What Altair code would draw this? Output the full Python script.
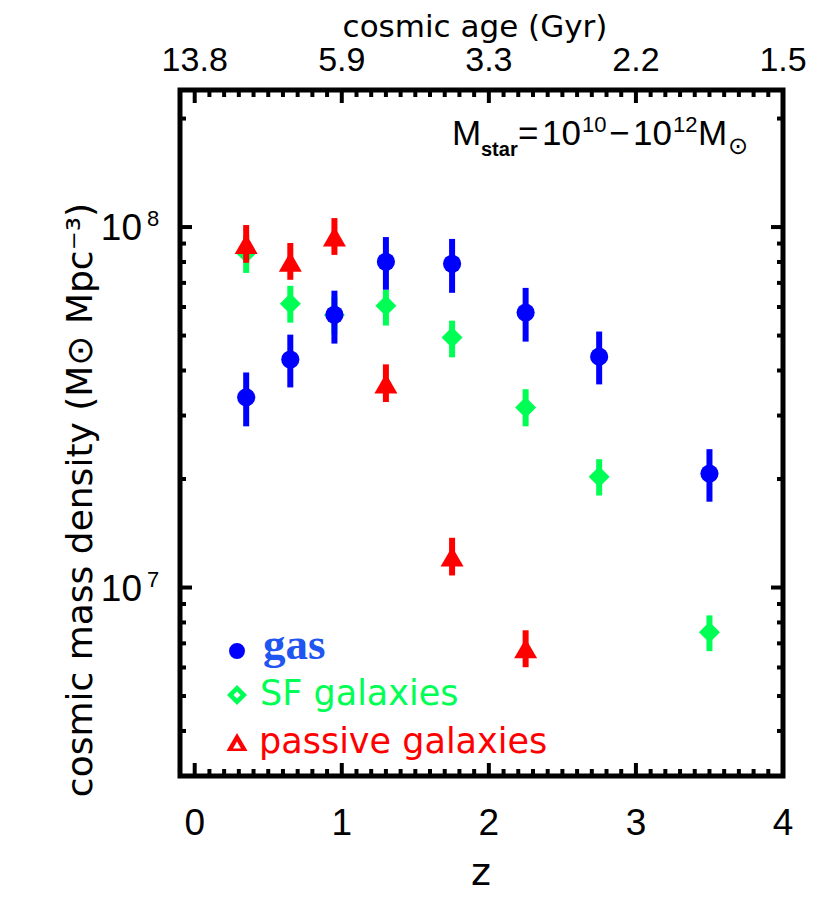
import altair as alt
import pandas as pd

# ---------------- data ----------------
z_gas = [0.35, 0.65, 0.95, 1.30, 1.75, 2.25, 2.75, 3.50]
gas = [3.37e7, 4.29e7, 5.71e7, 8.01e7, 7.91e7, 5.79e7, 4.37e7, 2.07e7]
gas_lo = [2.80e7, 3.59e7, 4.75e7, 6.70e7, 6.57e7, 4.81e7, 3.66e7, 1.73e7]
gas_hi = [3.95e7, 5.03e7, 6.66e7, 9.38e7, 9.27e7, 6.78e7, 5.13e7, 2.42e7]

z_sf = [0.35, 0.65, 0.95, 1.30, 1.75, 2.25, 2.75, 3.50]
sf = [8.48e7, 6.13e7, 5.70e7, 6.05e7, 4.94e7, 3.16e7, 2.03e7, 7.51e6]
sf_lo = [7.46e7, 5.43e7, 5.05e7, 5.33e7, 4.35e7, 2.80e7, 1.80e7, 6.66e6]
sf_hi = [9.50e7, 6.87e7, 6.40e7, 6.70e7, 5.50e7, 3.55e7, 2.27e7, 8.37e6]

z_pas = [0.35, 0.65, 0.95, 1.30, 1.75, 2.25]
pas = [8.97e7, 8.01e7, 9.41e7, 3.68e7, 1.218e7, 6.78e6]
pas_lo = [7.96e7, 7.14e7, 8.37e7, 3.27e7, 1.08e7, 6.01e6]
pas_hi = [1.013e8, 9.03e7, 1.059e8, 4.16e7, 1.374e7, 7.61e6]

x_major = [0, 1, 2, 3, 4]
x_labels = ["0", "1", "2", "3", "4"]
age_labels = ["13.8", "5.9", "3.3", "2.2", "1.5"]
x_minor = [round(0.1 * i, 1) for i in range(1, 40) if i % 10 != 0]
y_major = [1e7, 1e8]
y_exp = ["7", "8"]
y_minor = [3e6, 4e6, 5e6, 6e6, 7e6, 8e6, 9e6,
           2e7, 3e7, 4e7, 5e7, 6e7, 7e7, 8e7, 9e7, 2e8]

# ---------------- styling ----------------
W, H = 603, 686
BLUE, GREEN, RED = "#0000ff", "#00ff55", "#ff0000"
GAS_TEXT = "#1f55f0"
SANS = "DejaVu Sans"
NUM = "Liberation Sans"

xs = alt.Scale(domain=[-0.1, 4.0], nice=False, zero=False)
ys = alt.Scale(type="log", domain=[3e6, 2.4e8], nice=False)


def series_df(z, v, lo, hi):
    return pd.DataFrame({"z": z, "v": v, "lo": lo, "hi": hi})


def errbars(df, color):
    return alt.Chart(df).mark_rule(color=color, strokeWidth=6).encode(
        x=alt.X("z:Q", scale=xs, axis=None),
        y=alt.Y("lo:Q", scale=ys, axis=None),
        y2="hi:Q",
    )


def symbols(df, shape, size, color):
    return alt.Chart(df).mark_point(
        shape=shape, filled=True, size=size, color=color, opacity=1, strokeWidth=0
    ).encode(
        x=alt.X("z:Q", scale=xs, axis=None),
        y=alt.Y("v:Q", scale=ys, axis=None),
    )


df_gas = series_df(z_gas, gas, gas_lo, gas_hi)
df_sf = series_df(z_sf, sf, sf_lo, sf_hi)
df_pas = series_df(z_pas, pas, pas_lo, pas_hi)

layers = []
layers += [errbars(df_sf, GREEN), symbols(df_sf, "diamond", 441, GREEN)]
layers += [errbars(df_gas, BLUE), symbols(df_gas, "circle", 330, BLUE)]
layers += [errbars(df_pas, RED), symbols(df_pas, "triangle-up", 529, RED)]

# ---------------- inward ticks ----------------
df_xmaj = pd.DataFrame({"v": x_major, "lab": x_labels, "age": age_labels})
df_xmin = pd.DataFrame({"v": x_minor})
df_ymaj = pd.DataFrame({"v": y_major, "base": ["10", "10"], "e": y_exp})
df_ymin = pd.DataFrame({"v": y_minor})


def xticks(df, length):
    xe = alt.X("v:Q", scale=xs, axis=None)
    bot = alt.Chart(df).mark_rule(color="black", strokeWidth=4).encode(
        x=xe, y=alt.value(H), y2=alt.value(H - length))
    top = alt.Chart(df).mark_rule(color="black", strokeWidth=4).encode(
        x=xe, y=alt.value(0), y2=alt.value(length))
    return [bot, top]


def yticks(df, length):
    ye = alt.Y("v:Q", scale=ys, axis=None)
    left = alt.Chart(df).mark_rule(color="black", strokeWidth=4).encode(
        y=ye, x=alt.value(0), x2=alt.value(length))
    right = alt.Chart(df).mark_rule(color="black", strokeWidth=4).encode(
        y=ye, x=alt.value(W), x2=alt.value(W - length))
    return [left, right]


layers += xticks(df_xmaj, 13) + xticks(df_xmin, 7)
layers += yticks(df_ymaj, 12) + yticks(df_ymin, 6)

# ---------------- tick labels ----------------
layers.append(alt.Chart(df_xmaj).mark_text(
    font=NUM, fontSize=37, baseline="alphabetic", align="center", color="black"
).encode(x=alt.X("v:Q", scale=xs, axis=None), y=alt.value(745), text="lab:N"))

layers.append(alt.Chart(df_xmaj).mark_text(
    font=NUM, fontSize=34, baseline="alphabetic", align="center", color="black"
).encode(x=alt.X("v:Q", scale=xs, axis=None), y=alt.value(-19), text="age:N"))

layers.append(alt.Chart(df_ymaj).mark_text(
    font=NUM, fontSize=37, baseline="alphabetic", align="right", dy=13, color="black"
).encode(y=alt.Y("v:Q", scale=ys, axis=None), x=alt.value(-38), text="base:N"))

layers.append(alt.Chart(df_ymaj).mark_text(
    font=NUM, fontSize=22, baseline="alphabetic", align="left", dy=-1, color="black"
).encode(y=alt.Y("v:Q", scale=ys, axis=None), x=alt.value(-33), text="e:N"))

# ---------------- titles and annotations ----------------
one = pd.DataFrame({"k": [0]})


def label(text, x, y, size, font=SANS, color="black", align="left",
          angle=0, weight="normal"):
    kw = dict(text=text, font=font, fontSize=size, color=color, align=align,
              baseline="alphabetic", fontWeight=weight)
    if angle:
        kw["angle"] = angle
    return alt.Chart(one).mark_text(**kw).encode(x=alt.value(x), y=alt.value(y))


layers.append(label("cosmic age (Gyr)", 295, -53, 31, align="center"))
layers.append(label("z", 301, 795, 38, align="center"))
layers.append(label("cosmic mass density (M\u2299 Mpc\u207b\u00b3)", -88, 410, 36,
                    align="center", angle=270))

# M_star = 10^10 - 10^12 M_sun
layers.append(label("M", 272, 55, 35, font=NUM))
layers.append(label("star", 301, 66, 20, font=NUM, weight="bold"))
layers.append(label("=", 338, 55, 35, font=NUM))
layers.append(label("10", 362, 55, 35, font=NUM))
layers.append(label("10", 402, 42, 22, font=NUM))
layers.append(label("\u2212", 429, 55, 35, font=NUM))
layers.append(label("10", 453, 55, 35, font=NUM))
layers.append(label("12", 493, 42, 22, font=NUM))
layers.append(label("M", 518, 55, 35, font=NUM))
layers.append(label("\u2299", 548, 64, 24, font=SANS))

# legend
def lpoint(shape, size, color, x, y):
    return alt.Chart(one).mark_point(
        shape=shape, filled=True, size=size, color=color, opacity=1, strokeWidth=0
    ).encode(x=alt.value(x), y=alt.value(y))


layers.append(lpoint("circle", 254, BLUE, 57, 561))
layers.append(label("gas", 83, 569, 45, font="Liberation Serif", color=GAS_TEXT,
                    weight="bold"))
layers.append(lpoint("diamond", 400, GREEN, 57, 605))
layers.append(lpoint("diamond", 49, "white", 57, 605))
layers.append(label("SF galaxies", 80, 615, 35, color=GREEN))
layers.append(lpoint("triangle-up", 441, RED, 57, 652))
layers.append(lpoint("triangle-up", 64, "white", 57, 655))
layers.append(label("passive galaxies", 79, 663, 35, color=RED))

chart = alt.layer(*layers).properties(
    width=W,
    height=H,
    padding={"left": 172, "top": 82, "right": 30, "bottom": 120},
    autosize=alt.AutoSizeParams(type="none"),
    background="white",
).configure_view(stroke="black", strokeWidth=5)

chart.save("out.html", embed_options={"renderer": "svg", "actions": False})
